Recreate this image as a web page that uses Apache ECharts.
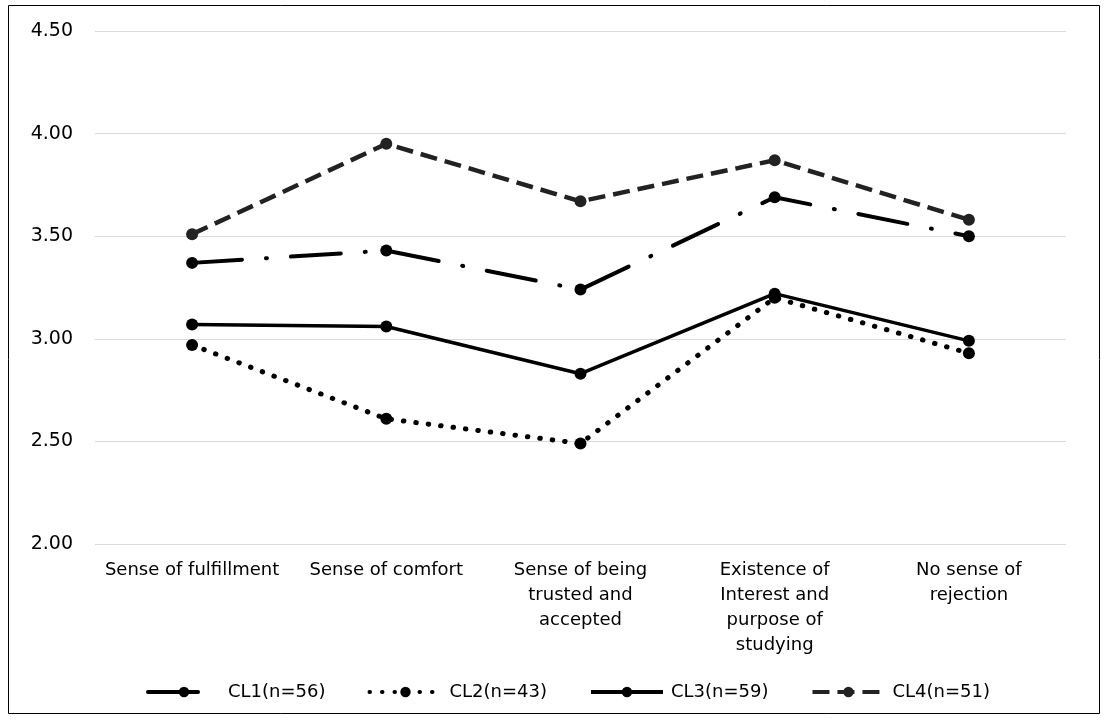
<!DOCTYPE html>
<html>
<head>
<meta charset="utf-8">
<style>
  html, body { margin: 0; padding: 0; background: #fff; }
  #chart { width: 1104px; height: 720px; }
</style>
<script src="https://cdn.jsdelivr.net/npm/echarts@6/dist/echarts.min.js"></script>
</head>
<body>
<div id="chart"></div>
<script>
// categories on the x axis (line breaks as in the source figure)
const categories = [
    'Sense of fulfillment',
    'Sense of comfort',
    'Sense of being\ntrusted and\naccepted',
    'Existence of\nInterest and\npurpose of\nstudying',
    'No sense of\nrejection'
];

const seriesNames = ['CL1(n=56)', 'CL2(n=43)', 'CL3(n=59)', 'CL4(n=51)'];

// mean scores
const cl1 = [3.37, 3.43, 3.24, 3.69, 3.50];
const cl2 = [2.97, 2.61, 2.49, 3.20, 2.93];
const cl3 = [3.07, 3.06, 2.83, 3.22, 2.99];
const cl4 = [3.51, 3.95, 3.67, 3.87, 3.58];

const yMin = 2.0;
const yMax = 4.5;
const yStep = 0.5;

const font = 'DejaVu Sans';

const makeSeries = (name, data, color, type, cap, width) => ({
    name: name,
    type: 'line',
    data: data,
    symbol: 'circle',
    symbolSize: 12,
    color: color,
    itemStyle: { color: color },
    lineStyle: { color: color, width: width, type: type, cap: cap },
    emphasis: { disabled: true },
    animation: false
});

const chart = echarts.init(document.getElementById('chart'));

chart.setOption({
    backgroundColor: '#fff',
    graphic: [{
        type: 'rect',
        shape: { x: 8.5, y: 5.5, width: 1091, height: 708 },
        style: { fill: 'none', stroke: '#000', lineWidth: 1 },
        silent: true
    }],
    grid: { left: 95, right: 38, top: 31, bottom: 176 },
    legend: {
        top: 678,
        left: 141,
        itemWidth: 72,
        itemHeight: 13,
        itemGap: 42,
        lineStyle: { width: 4 },
        textStyle: { fontFamily: font, fontSize: 18, color: '#000', padding: [0, 0, 0, 3] },
        data: seriesNames
    },
    xAxis: {
        type: 'category',
        data: categories,
        boundaryGap: true,
        axisLine: { show: false },
        axisTick: { show: false },
        axisLabel: {
            interval: 0,
            margin: 14,
            fontFamily: font,
            fontSize: 18,
            color: '#000',
            lineHeight: 25
        }
    },
    yAxis: {
        type: 'value',
        min: yMin,
        max: yMax,
        interval: yStep,
        axisLine: { show: false },
        axisTick: { show: false },
        splitLine: { lineStyle: { color: '#d9d9d9', width: 1 } },
        axisLabel: {
            margin: 22,
            fontFamily: font,
            fontSize: 19,
            color: '#000',
            formatter: (v) => v.toFixed(2)
        }
    },
    series: [
        makeSeries(seriesNames[0], cl1, '#000', [50, 24, 1, 24], 'round', 4),
        makeSeries(seriesNames[1], cl2, '#000', [0.5, 12], 'round', 5),
        makeSeries(seriesNames[2], cl3, '#000', 'solid', 'butt', 3.5),
        makeSeries(seriesNames[3], cl4, '#222', [17, 8], 'butt', 4.5)
    ]
});
</script>
</body>
</html>
